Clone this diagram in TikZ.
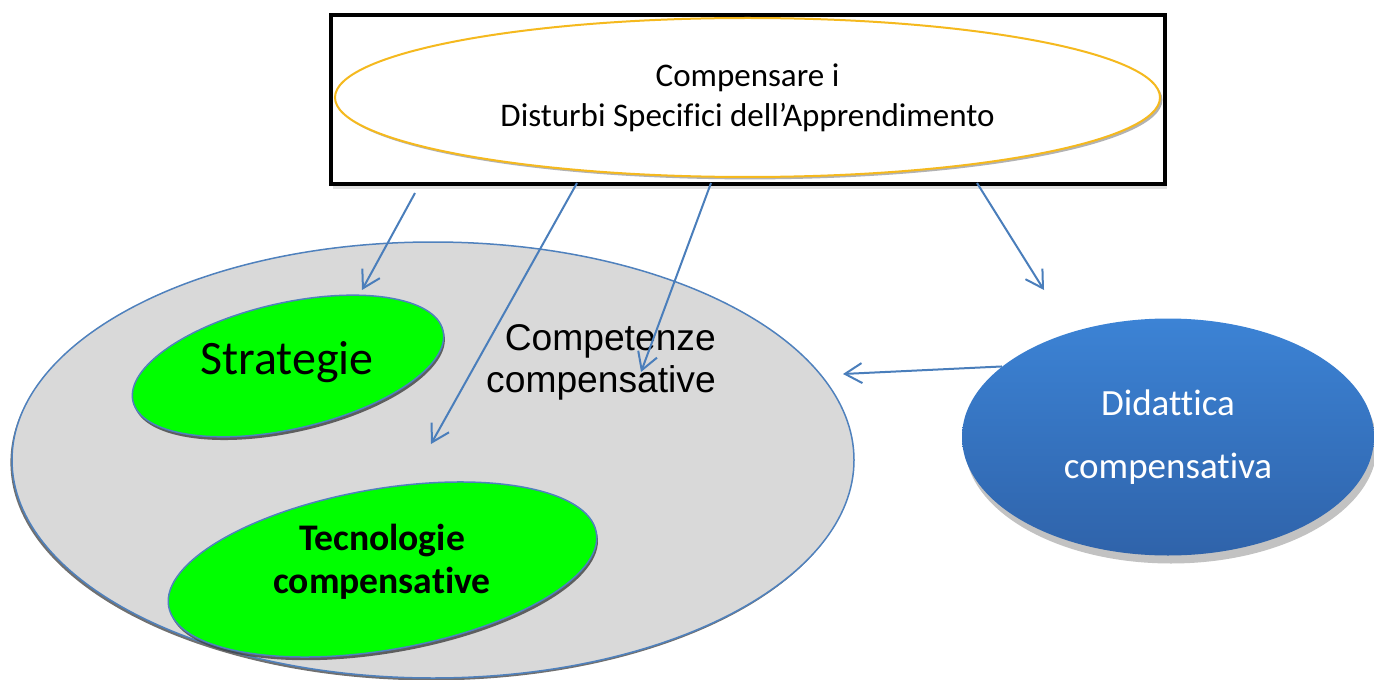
\documentclass[tikz,border=0pt]{standalone}
\usepackage{fontspec}
\setmainfont{Carlito}[Ligatures=NoCommon]
\newfontfamily\arialfont{Liberation Sans}
\usetikzlibrary{arrows.meta,shapes.geometric,shadows}
\definecolor{linkblue}{RGB}{74,126,187}
\definecolor{edgeblue}{RGB}{79,129,189}
\definecolor{goldring}{RGB}{245,185,30}
\definecolor{zonegray}{RGB}{217,217,217}
\definecolor{didtop}{RGB}{60,131,213}
\definecolor{didbot}{RGB}{47,99,170}

\begin{document}
\begin{tikzpicture}[
  x=0.5pt,y=-0.5pt,
  >={Straight Barb[length=8.5pt,width=10pt]},
  link/.style={->,line width=1pt,linkblue},
  blob/.style={ellipse,draw=edgeblue,line width=0.75pt,inner sep=0pt},
  tool/.style={blob,fill=green,drop shadow={shadow xshift=0.6pt,shadow yshift=-1.6pt,
    fill=black!75,opacity=.8}},
  caption/.style={align=center,font=\fontsize{18.8}{21.5}\selectfont\bfseries}
]
  \useasboundingbox (0,0) rectangle (1374,679);

  \node[draw,line width=2pt,fill=white,minimum width=417pt,minimum height=84.5pt,
    drop shadow={shadow xshift=1pt,shadow yshift=-2.5pt,fill=black!12,opacity=1}]
    (frame) at (747.5,100) {};
  \node[ellipse,draw=goldring,line width=1pt,fill=white,minimum width=412.5pt,
    minimum height=79.5pt,align=center,font=\fontsize{16.5}{20}\selectfont,
    drop shadow={shadow xshift=1.2pt,shadow yshift=-1.2pt,fill=black!30,opacity=1}]
    (goal) at (747.5,97.5) {Compensare i\\Disturbi Specifici dell’Apprendimento};

  \node[blob,fill=zonegray,minimum width=421pt,minimum height=218pt,
    drop shadow={shadow xshift=-0.8pt,shadow yshift=-1.2pt,fill=black!70,opacity=.8}]
    (zone) at (433,460) {};
  \node[align=right,font=\arialfont\fontsize{18.6}{21}\selectfont]
    (comp) at (601,362) {Competenze\\compensative};

  \node[tool,rotate=12.8,minimum width=159pt,minimum height=63pt] (strat) at (288,366) {};
  \node[font=\fontsize{24}{28}\selectfont] (strattxt) at (287,362) {Strategie};
  \node[tool,rotate=9.8,minimum width=217pt,minimum height=80.5pt] (tecn) at (382.5,569.5) {};
  \node[caption] (tecntxt) at (382,562) {Tecnologie\\compensative};

  \node[ellipse,top color=didtop,bottom color=didbot,minimum width=206pt,
    minimum height=118.5pt,align=center,text=white,font=\fontsize{18.5}{31.5}\selectfont,
    drop shadow={shadow xshift=1.5pt,shadow yshift=-4pt,fill=black!60,opacity=.4}]
    (did) at (1168,437) {Didattica\\compensativa};

  \coordinate (fromA) at (415,193);
  \coordinate (toA) at (362,290);
  \coordinate (fromB) at (577,183);
  \coordinate (toB) at (431,444);
  \coordinate (fromC) at (711,183);
  \coordinate (toC) at (641,372);
  \coordinate (fromD) at (977,183);
  \coordinate (toD) at (1044,290);
  \coordinate (toE) at (843,374);

  \draw[link] (fromA) -- (toA);
  \draw[link] (fromB) -- (toB);
  \draw[link] (fromC) -- (toC);
  \draw[link] (fromD) -- (toD);
  \draw[link] (did.157) -- (toE);
\end{tikzpicture}
\end{document}
